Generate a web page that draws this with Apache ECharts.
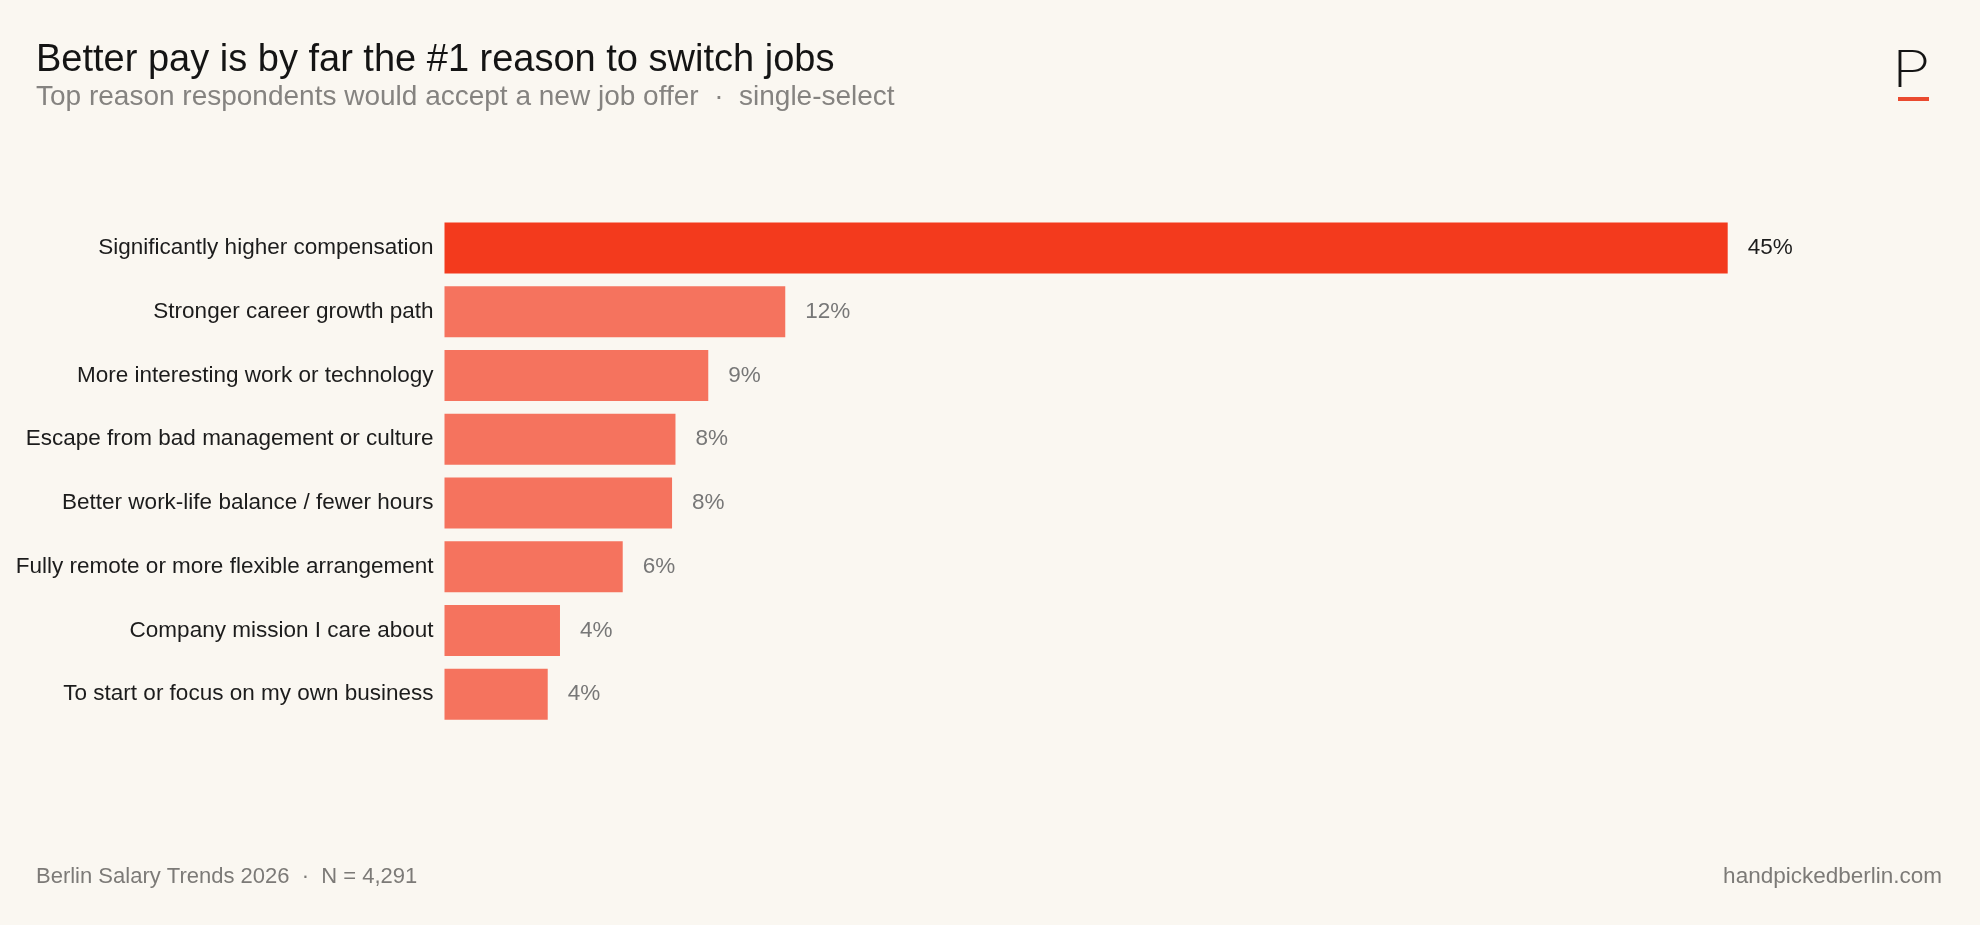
<!DOCTYPE html>
<html lang="en">
<head>
    <meta charset="UTF-8">
    <title>Reasons to switch jobs</title>
    <style>
        html, body { margin: 0; padding: 0; background: #faf7f1; }
        #chart { width: 1980px; height: 925px; }
    </style>
    <script src="https://cdn.jsdelivr.net/npm/echarts@6/dist/echarts.min.js"></script>
</head>
<body>
    <div id="chart"></div>
    <script>
        // data
        var reasons = [
            'Significantly higher compensation',
            'Stronger career growth path',
            'More interesting work or technology',
            'Escape from bad management or culture',
            'Better work-life balance / fewer hours',
            'Fully remote or more flexible arrangement',
            'Company mission I care about',
            'To start or focus on my own business'
        ];
        var shares = [45.0, 11.95, 9.25, 8.1, 7.98, 6.25, 4.05, 3.62];

        var font = '"Liberation Sans", Arial, sans-serif';
        var chart = echarts.init(document.getElementById('chart'));

        var option = {
            backgroundColor: '#faf7f1',
            animation: false,
            grid: {
                left: 444.5,
                right: 252.3,
                top: 216,
                bottom: 199
            },
            xAxis: {
                type: 'value',
                min: 0,
                max: 45,
                show: false
            },
            yAxis: {
                type: 'category',
                data: reasons,
                inverse: true,
                axisLine: { show: false },
                axisTick: { show: false },
                axisLabel: {
                    margin: 11,
                    fontFamily: font,
                    fontSize: 22.5,
                    color: '#1c1c1c'
                }
            },
            series: [{
                type: 'bar',
                barWidth: 51,
                data: shares.map(function (v, i) {
                    return {
                        value: v,
                        itemStyle: { color: i === 0 ? '#f33a1d' : '#f5735e' },
                        label: { color: i === 0 ? '#1c1c1c' : '#777777' }
                    };
                }),
                label: {
                    show: true,
                    position: 'right',
                    distance: 20,
                    fontFamily: font,
                    fontSize: 22.5,
                    formatter: function (p) { return Math.round(p.value) + '%'; }
                }
            }],
            graphic: [
                // title + subtitle
                {
                    type: 'text', x: 36, y: 61,
                    style: { text: 'Better pay is by far the #1 reason to switch jobs', font: '38px ' + font, fill: '#141414', verticalAlign: 'middle' }
                },
                {
                    type: 'text', x: 36, y: 97,
                    style: { text: 'Top reason respondents would accept a new job offer  \u00b7  single-select', font: '28px ' + font, fill: '#858380', verticalAlign: 'middle' }
                },
                // logo
                {
                    type: 'text', x: 1892, y: 72, scaleX: 1.25,
                    style: { text: 'P', font: '200 50px Inter, "Open Sans", sans-serif', fill: '#141414', verticalAlign: 'middle' }
                },
                {
                    type: 'rect', shape: { x: 1898, y: 97, width: 31, height: 4 },
                    style: { fill: '#ea4a2f' }
                },
                // footer
                {
                    type: 'text', x: 36, y: 877,
                    style: { text: 'Berlin Salary Trends 2026  \u00b7  N = 4,291', font: '22px ' + font, fill: '#7c7a77', verticalAlign: 'middle' }
                },
                {
                    type: 'text', x: 1942, y: 877,
                    style: { text: 'handpickedberlin.com', font: '22.5px ' + font, fill: '#7c7a77', align: 'right', verticalAlign: 'middle' }
                }
            ]
        };

        chart.setOption(option);
    </script>
</body>
</html>
